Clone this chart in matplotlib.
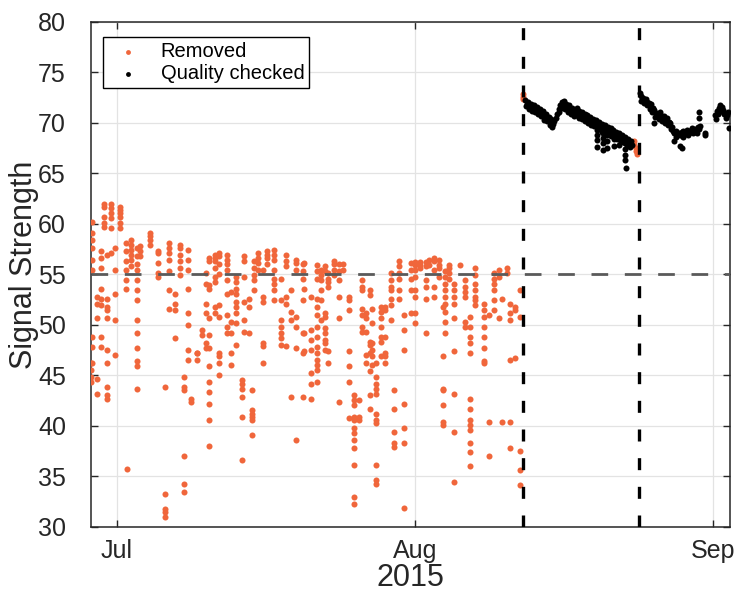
import numpy as np
import matplotlib
matplotlib.use("Agg")
import matplotlib.pyplot as plt
import matplotlib.dates as mdates

plt.rcParams['font.family'] = ['Liberation Sans', 'DejaVu Sans']

# time of each reading, in days after 1 Jul 2015 00:00
# removed readings: one column of values per time stamp
rm_day = [-2.7, -2.6, -2.08, -1.63, -1.35, -1.04, -0.59, -0.17, 0.35, 0.97, 1.07,
          1.49, 2.08, 2.43, 3.4, 4.27, 5.03, 5.37, 6.0, 6.52, 6.97, 7.39, 7.73, 8.36,
          8.32, 8.81, 9.26, 9.6, 10.2, 10.64, 11.4, 11.86, 12.38, 12.97, 13.25, 13.77,
          14.0, 14.29, 14.7, 15.15, 15.57, 16.37, 17.06, 17.58, 18.1, 18.62, 19.31,
          19.45, 20.15, 20.77, 21.26, 21.6, 21.95, 22.57, 23.09, 23.55, 24.13, 24.65,
          25.17, 25.52, 25.87, 26.28, 26.56, 26.91, 27.43, 27.85, 28.47, 28.82, 29.34,
          29.86, 30.62,
          30.97, 31.56, 32.15, 32.49, 33.01, 33.46, 33.88, 34.16, 34.5, 35.09, 35.72,
          36.24, 36.76, 37.28, 38.14, 38.66, 39.18, 39.7, 40.05, 40.57, 40.92, 41.44,
          41.96, 42.25, 53.8, 53.95, 54.1]
rm_val = [
    [46.2, 44.9, 44.4, 45.5],
    [60.2, 59.1, 58.4, 57.6, 56.4, 55.4, 48.8, 47.8, 46.2],
    [52.8, 52.1, 50.7, 44.7, 43.2],
    [57.3, 56.6, 55.6, 53.6, 52.6, 52.0, 48.8, 47.8],
    [62.0, 61.7, 60.7, 60.1, 59.7],
    [56.9, 52.6, 51.8, 51.5, 50.7, 47.5, 46.2, 43.9, 43.1, 42.7],
    [62.0, 61.6, 61.1, 60.6, 59.6, 57.1],
    [57.6, 55.4, 53.1, 50.5, 47.0],
    [61.7, 61.4, 61.1, 60.7, 60.1, 59.6],
    [58.1, 57.3, 56.3, 55.4, 54.5, 53.6],
    [35.7],
    [58.4, 57.9, 57.4, 56.9, 56.4, 55.8],
    [57.6, 56.8, 56.0, 55.4, 54.5, 53.5, 52.5, 50.5, 49.2, 47.7, 46.4, 45.9, 43.7],
    [57.8, 57.3, 56.8],
    [59.1, 58.8, 58.4, 57.9],
    [57.3, 57.1, 56.1, 55.1, 54.8],
    [43.9, 33.3, 31.8, 31.5, 31.0],
    [58.1, 57.6, 57.1, 56.4, 55.3, 53.5, 51.6],
    [53.1, 52.1, 51.5, 48.7],
    [57.9, 57.6, 56.9, 56.3, 55.6, 54.9],
    [44.9, 43.9, 43.6, 37.0, 34.3, 33.5],
    [57.4, 56.4, 55.4, 53.6, 51.2, 50.0, 47.5, 46.5],
    [42.7, 42.4],
    [47.2, 46.5],
    [47.2],
    [49.5, 49.0],
    [55.1, 54.1, 52.1, 51.2, 48.2, 47.7],
    [56.6, 56.3, 54.0, 53.6, 50.7, 49.0, 47.7, 45.9, 44.4, 43.4, 42.2, 40.6, 38.0],
    [56.9, 56.6, 56.3, 55.6, 54.8, 54.3, 51.8, 51.2],
    [57.1, 56.8, 56.0, 55.0, 52.0, 50.8, 47.2, 46.9, 46.2, 45.0],
    [56.9, 56.4, 56.0, 55.4, 54.5, 53.1, 51.0, 49.8, 49.2],
    [53.3, 50.3, 49.2, 47.2, 46.0],
    [54.8, 54.3, 53.6, 53.1, 52.3, 51.8, 51.2, 50.2, 48.0],
    [44.6, 44.2, 43.7, 42.9, 40.9, 36.6],
    [56.8, 56.3, 54.8, 52.3, 50.5, 49.3],
    [52.6, 51.8, 49.2],
    [43.6, 41.6, 41.2, 40.9, 40.6, 39.1],
    [56.3, 55.6, 54.9, 54.5, 53.5],
    [57.1, 56.6, 56.1, 55.4],
    [55.4, 52.8, 52.3, 48.2, 47.9, 46.2],
    [57.3, 56.9, 56.6, 56.0],
    [57.4, 56.9, 56.4, 55.4, 54.6, 54.1, 53.5, 52.5],
    [54.6, 52.5, 50.5, 49.8, 49.2, 48.7, 48.0],
    [56.9, 56.3, 55.8, 52.8, 52.1, 47.9],
    [53.5, 51.3, 50.5, 42.9],
    [56.4, 56.1, 55.4, 50.8, 49.8, 47.7, 38.6],
    [56.0, 55.3, 54.6, 52.5, 49.2, 47.2, 42.9],
    [56.1, 53.6, 49.2, 47.4],
    [52.8, 49.5, 48.5, 47.5, 45.2, 44.2, 42.7],
    [55.9, 55.3, 54.6, 52.6, 51.8, 51.0, 49.8, 48.8, 47.8, 47.2, 46.5, 46.0, 45.5, 44.4],
    [55.4, 54.9, 54.5, 53.5, 52.5, 50.5],
    [55.8, 55.3, 51.2, 50.8, 49.7, 49.2, 48.5, 48.2, 47.5],
    [55.1, 54.6, 54.3, 53.8, 47.4, 46.2],
    [56.3, 56.0, 55.4, 54.9],
    [56.0, 55.3, 54.5, 52.8, 50.7, 42.4],
    [56.0, 55.4],
    [52.8, 52.5, 51.5, 47.4, 45.9, 44.4, 40.8],
    [43.1, 42.6, 42.1, 40.9, 40.6, 39.8, 39.3, 38.6, 37.8, 36.1, 33.0, 32.3],
    [42.6, 40.9, 40.6],
    [54.5, 53.8, 53.5, 51.6, 51.0, 49.8, 49.3],
    [51.2, 50.7, 49.3, 47.0, 46.2],
    [53.5, 53.0, 48.3, 48.0, 47.2, 45.4, 43.1, 41.7],
    [51.6, 50.2, 48.2, 47.5, 46.9, 46.0],
    [46.2, 44.9, 44.2, 43.7, 43.2, 41.2, 40.6, 40.3, 36.1, 34.7, 34.3],
    [51.8, 51.3, 50.7, 49.8, 48.8, 48.3, 46.9],
    [51.8, 51.5, 48.8, 47.2, 46.9, 46.2],
    [55.1, 54.5, 53.8, 53.5, 52.6, 52.0, 50.5],
    [43.6, 41.7, 39.4, 38.3, 37.9],
    [56.3, 55.8, 55.1, 54.6, 53.5, 52.6],
    [51.0, 49.5, 47.5, 42.2, 39.8, 38.3, 31.9],
    [56.1, 55.4, 54.6, 53.5, 51.2],
    [56.2, 55.9, 55.4, 54.8, 53.5, 52.8, 51.2, 50.2],
    [56.2, 55.9, 55.6],
    [56.2, 55.8, 54.5, 53.8, 52.6, 49.2],
    [56.4, 55.9],
    [56.6, 56.3, 55.4, 53.8, 52.8],
    [56.4, 55.9, 55.6, 54.8],
    [51.8, 46.9, 43.7, 43.6, 42.1, 40.4, 40.1],
    [55.3, 54.8, 54.1, 53.5, 52.8, 52.1, 51.3, 50.3, 49.2],
    [55.9, 55.6, 55.1, 54.6],
    [54.1, 53.5, 52.8, 52.1, 50.7, 47.4, 43.2, 39.4, 34.5],
    [55.9],
    [54.5, 53.8, 53.3, 52.8, 50.3, 49.8],
    [50.8, 49.8, 48.8, 48.2, 47.2, 42.7, 41.7, 40.6, 40.1, 39.6, 38.3, 37.4, 36.0],
    [55.6, 54.9, 54.1, 53.5, 52.8, 52.5, 52.0],
    [52.1, 51.5, 50.8, 49.8, 48.8, 47.7, 46.4, 46.2],
    [51.0, 40.4, 37.0],
    [55.1, 54.6, 54.1, 53.5, 52.5, 51.5],
    [55.4, 54.8, 50.7],
    [52.6, 40.4],
    [55.6, 55.1],
    [52.1, 51.2, 50.5, 46.5, 40.4, 37.8],
    [51.8, 51.5, 46.7],
    [53.5, 50.8, 37.5, 35.6, 34.2],
    [72.9, 72.6, 72.4],
    [68.2, 67.8],
    [67.5, 67.2],
    [66.9, 67.4],
]

# quality checked readings
qc_day = [42.5, 42.65, 42.8, 42.95, 43.1, 43.25, 43.4, 43.55, 43.7, 43.85, 44.0, 44.15,
          44.3, 44.45, 44.6, 44.75, 44.9, 45.05, 45.2, 45.35, 45.5, 45.65, 45.8, 45.95,
          46.1, 46.25, 46.4, 46.55, 46.7, 46.85, 47.0, 47.15, 47.3, 47.45, 47.6, 47.75,
          47.9, 48.05, 48.2, 48.35, 48.5, 48.65, 48.8, 48.95, 49.1, 49.25, 49.4, 49.55,
          49.7, 49.85, 50.0, 50.15, 50.3, 50.45, 50.6, 50.75, 50.9, 51.05, 51.2, 51.35,
          51.5, 51.65, 51.8, 51.95, 52.1, 52.25, 52.4, 52.55, 52.7, 52.85, 53.0, 53.15,
          53.3, 53.45, 53.6,
          42.6, 42.9, 43.2, 43.5, 43.8, 44.1, 44.4, 44.7, 45.0, 45.3, 46.0, 46.3, 46.6,
          46.9, 47.2, 47.5, 47.8, 48.1, 48.4, 48.7, 49.0, 49.3, 49.6, 50.2, 50.5, 50.8,
          51.1, 51.4, 51.8, 52.0, 52.3, 52.6, 53.1, 53.4,
          49.9, 49.9, 49.9, 49.9, 50.6, 50.6, 50.6, 50.6, 51.0, 51.0, 51.0, 51.7, 51.7,
          51.7, 52.2, 52.2, 52.9, 52.9, 52.9, 52.9, 52.95,
          54.4, 54.55, 54.7, 54.85, 55.0, 55.15, 55.3, 55.45, 55.6, 55.75, 55.9, 56.05,
          56.2, 56.35, 56.5, 56.65, 56.8, 56.95, 57.1, 57.25, 57.4, 57.55, 57.7, 57.85,
          58.0, 58.15, 58.3, 58.45, 58.6, 58.75, 58.9, 59.05, 59.2, 59.35, 59.5, 59.65,
          59.8, 59.95, 60.1, 60.25, 60.4, 60.55, 60.7,
          54.5, 54.8, 55.1, 55.4, 55.7, 56.0, 56.4, 56.7, 57.0, 57.3, 57.6, 58.2, 58.9,
          59.4, 59.9, 60.3,
          55.9, 57.9, 58.6, 58.8, 60.5, 60.5, 61.2, 61.2,
          62.2, 62.3, 62.45, 62.6, 62.75, 62.9, 63.05, 63.2, 63.35, 63.5, 63.6, 63.7,
          62.5, 62.8, 63.1]
qc_val = [72.3, 71.9, 72.1, 71.7, 71.9, 71.5, 71.8, 71.3, 71.6, 71.1, 71.4, 71.0,
          71.2, 70.7, 70.9, 70.4, 70.6, 70.2, 70.4, 69.9, 70.2, 70.5, 70.9, 71.4,
          71.8, 72.1, 71.8, 72.2, 71.9, 71.6, 71.8, 71.3, 71.5, 71.0, 71.3, 71.1,
          71.5, 71.2, 70.8, 71.1, 70.6, 70.9, 70.5, 70.8, 70.3, 70.6, 70.2, 70.4,
          70.0, 70.3, 69.8, 70.1, 69.6, 69.9, 69.5, 69.8, 69.4, 69.6, 69.2, 69.5,
          69.0, 69.3, 68.9, 69.1, 68.7, 69.0, 68.6, 68.8, 68.3, 68.6, 68.2, 68.4,
          67.9, 68.2, 67.8,
          71.7, 71.4, 71.2, 71.1, 70.9, 70.7, 70.3, 70.2, 69.8, 69.6, 71.1, 71.5, 71.4,
          71.1, 70.9, 70.7, 70.8, 70.5, 70.4, 70.2, 70.0, 69.8, 69.7, 69.4, 69.1, 69.0,
          68.9, 68.7, 68.5, 68.4, 68.3, 68.1, 67.8, 67.6,
          69.3, 68.8, 68.3, 67.6, 69.0, 68.5, 68.0, 67.3, 68.8, 68.2, 67.5, 69.0, 68.4,
          67.7, 68.5, 67.8, 68.0, 67.4, 66.8, 66.3, 65.5,
          73.0, 72.7, 72.5, 72.3, 72.4, 72.1, 72.0, 71.8, 71.9, 71.5, 71.3, 71.0,
          70.8, 70.9, 71.1, 70.7, 70.5, 70.7, 70.3, 70.5, 70.1, 70.0, 69.6, 69.2,
          69.0, 69.2, 68.9, 69.0, 68.8, 69.1, 69.2, 68.9, 69.1, 69.3, 69.0, 69.2,
          69.5, 69.3, 69.4, 69.2, 69.6, 69.4, 69.7,
          72.2, 72.0, 71.8, 71.4, 71.1, 70.6, 70.4, 70.2, 70.0, 69.8, 69.4, 68.6, 68.6,
          68.8, 69.0, 69.0,
          70.0, 68.2, 67.7, 67.5, 71.1, 70.5, 69.0, 68.8,
          70.8, 70.4, 71.2, 71.5, 71.8, 71.6, 71.3, 71.0, 70.5, 70.8, 71.1, 69.5,
          70.9, 71.2, 70.9]

# quality control limits
threshold = 55
cut_days = [42.2, 54.3]

t0 = np.datetime64('2015-07-01T00:00')


def to_time(days):
    return t0 + np.round(np.asarray(days) * 1440).astype('timedelta64[m]')


rm_x = np.repeat(rm_day, [len(v) for v in rm_val])
rm_y = np.concatenate([np.asarray(v, float) for v in rm_val])

orange = '#f0663b'
ink = '#262626'

fig = plt.figure(figsize=(7.36, 5.94), dpi=100)
ax = fig.add_axes([0.1236, 0.1128, 0.8682, 0.8502])

ax.scatter(to_time(rm_x), rm_y, s=19, color=orange, linewidths=0, label='Removed', zorder=3)
ax.scatter(to_time(qc_day), qc_val, s=19, color='black', linewidths=0,
           label='Quality checked', zorder=3)

ax.axhline(threshold, color='#5a5a5a', lw=2, dashes=(6, 6), zorder=4)
for d in cut_days:
    ax.axvline(to_time(d), color='black', lw=2.4, dashes=(3.6, 5), zorder=4)

ax.set_xlim(to_time(-2.7), to_time(63.77))
ax.set_ylim(30, 80)
ax.set_yticks(np.arange(30, 81, 5))
ax.xaxis.set_major_locator(mdates.MonthLocator())
ax.xaxis.set_major_formatter(mdates.DateFormatter('%b'))

ax.grid(True, color='#e3e3e3', lw=0.9, zorder=0)
ax.set_axisbelow(True)
ax.tick_params(direction='in', length=5, width=1, top=True, right=True,
               labelsize=18, colors=ink)
ax.tick_params(axis='y', pad=18)
ax.tick_params(axis='x', pad=9)
for s in ax.spines.values():
    s.set_color(ink)
    s.set_linewidth(1.1)

ax.set_ylabel('Signal Strength', fontsize=22, color=ink)
ax.yaxis.set_label_coords(-0.082, 0.52)
ax.set_xlabel('2015', fontsize=22, color=ink, labelpad=0)

leg = ax.legend(loc='upper left', bbox_to_anchor=(0.019, 0.97), borderaxespad=0,
                fontsize=14.5, frameon=True, fancybox=False, framealpha=1,
                edgecolor='black', markerscale=0.8, handlelength=2.0,
                handletextpad=0.6, borderpad=0.25, labelspacing=0.15)
leg.get_frame().set_linewidth(1.0)

fig.savefig('out.png', dpi=100)
